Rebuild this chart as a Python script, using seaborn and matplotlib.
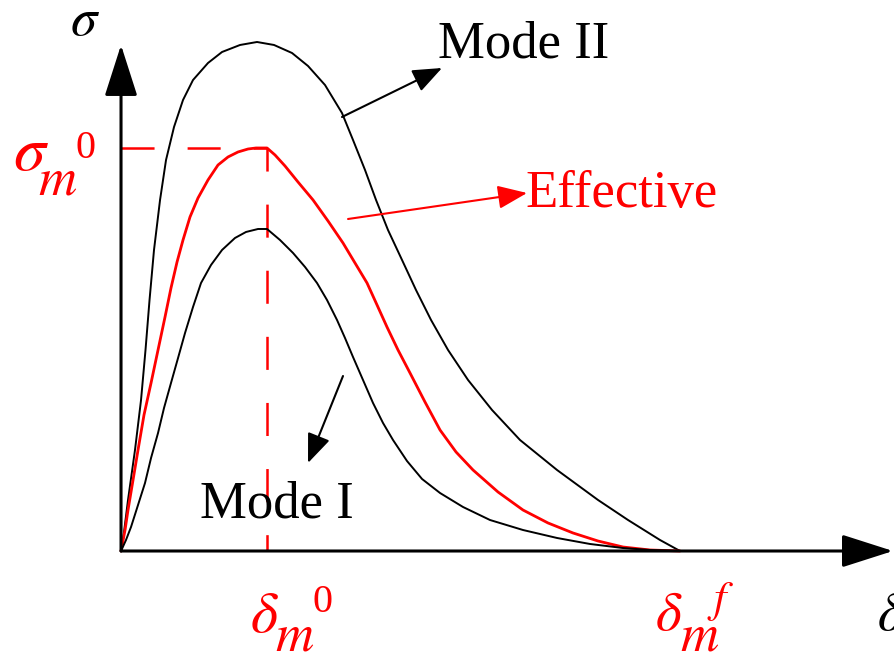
import matplotlib
matplotlib.use("Agg")
import matplotlib.pyplot as plt
import seaborn as sns
import pandas as pd

# Traction-separation curves, normalised: delta / delta_f and sigma / sigma_m^0
mode2_delta = [0.0, 0.0036, 0.0125, 0.0250, 0.0358, 0.0438, 0.0510, 0.0590, 0.0698,
               0.0805, 0.0948, 0.1109, 0.1288, 0.1556, 0.1807, 0.2129, 0.2433, 0.2737,
               0.3059, 0.3345, 0.3649, 0.3953, 0.4150, 0.4365, 0.4562, 0.4776, 0.5027,
               0.5277, 0.5546, 0.5850, 0.6208, 0.6637, 0.7138, 0.7800, 0.8533, 0.9070,
               0.9642, 1.0]
mode2_sigma = [0.0, 0.0273, 0.1266, 0.2506, 0.3747, 0.4988, 0.6228, 0.7469, 0.8710,
               0.9702, 1.0521, 1.1191, 1.1687, 1.2109, 1.2382, 1.2556, 1.2630, 1.2556,
               1.2357, 1.2035, 1.1563, 1.0868, 1.0199, 0.9454, 0.8710, 0.7965, 0.7221,
               0.6476, 0.5732, 0.4988, 0.4243, 0.3499, 0.2754, 0.2010, 0.1266, 0.0769,
               0.0273, 0.0]

eff_delta = [0.0, 0.0072, 0.0125, 0.0215, 0.0304, 0.0411, 0.0537, 0.0662, 0.0787,
             0.0894, 0.1002, 0.1109, 0.1234, 0.1377, 0.1556, 0.1735, 0.1914, 0.2093,
             0.2272, 0.2415, 0.2612, 0.2755, 0.2934, 0.3166, 0.3435, 0.3703, 0.3971,
             0.4186, 0.4401, 0.4580, 0.4758, 0.4955, 0.5170, 0.5438, 0.5707, 0.5993,
             0.6297, 0.6744, 0.7191, 0.7639, 0.8086, 0.8533, 0.8980, 0.9463, 1.0]
eff_sigma = [0.0, 0.0521, 0.1017, 0.1762, 0.2506, 0.3375, 0.4169, 0.4988, 0.5806,
             0.6526, 0.7171, 0.7717, 0.8288, 0.8759, 0.9206, 0.9578, 0.9777, 0.9901,
             0.9975, 1.0, 1.0, 0.9826, 0.9553, 0.9156, 0.8710, 0.8189, 0.7643,
             0.7146, 0.6650, 0.6104, 0.5558, 0.4988, 0.4417, 0.3697, 0.3002, 0.2457,
             0.2010, 0.1464, 0.1017, 0.0695, 0.0447, 0.0248, 0.0099, 0.0025, 0.0]

mode1_delta = [0.0, 0.0089, 0.0179, 0.0304, 0.0429, 0.0537, 0.0662, 0.0769, 0.0894,
               0.1020, 0.1145, 0.1288, 0.1431, 0.1610, 0.1807, 0.2039, 0.2236, 0.2451,
               0.2612, 0.2844, 0.3077, 0.3292, 0.3506, 0.3685, 0.3864, 0.4007, 0.4150,
               0.4329, 0.4508, 0.4687, 0.4866, 0.5116, 0.5385, 0.5707, 0.6118, 0.6601,
               0.7191, 0.7800, 0.8390, 0.8980, 0.9463, 1.0]
mode1_sigma = [0.0, 0.0273, 0.0596, 0.1141, 0.1687, 0.2308, 0.2928, 0.3548, 0.4169,
               0.4789, 0.5409, 0.6055, 0.6650, 0.7097, 0.7469, 0.7767, 0.7916, 0.7990,
               0.7990, 0.7717, 0.7395, 0.7047, 0.6650, 0.6228, 0.5732, 0.5285, 0.4814,
               0.4243, 0.3672, 0.3176, 0.2754, 0.2233, 0.1787, 0.1439, 0.1092, 0.0769,
               0.0521, 0.0323, 0.0174, 0.0074, 0.0025, 0.0]

# Characteristic values
delta_0 = 0.2612   # delta_m^0
delta_f = 1.0      # delta_m^f
sigma_0 = 1.0      # sigma_m^0

sns.set_style("white")
plt.rcParams["font.family"] = ["Liberation Serif", "DejaVu Serif"]
plt.rcParams["mathtext.fontset"] = "stix"

fig = plt.figure(figsize=(8.94, 6.53), dpi=100)
ax = fig.add_axes([0, 0, 1, 1])
ax.set_xlim(-0.2165, 1.3828)
ax.set_ylim(-0.2531, 1.3672)
ax.axis("off")

RED = "#ff0000"

curves = pd.concat([
    pd.DataFrame({"delta": mode2_delta, "sigma": mode2_sigma, "curve": "Mode II"}),
    pd.DataFrame({"delta": eff_delta, "sigma": eff_sigma, "curve": "Effective"}),
    pd.DataFrame({"delta": mode1_delta, "sigma": mode1_sigma, "curve": "Mode I"}),
])
styles = {"Mode II": ("black", 1.4), "Effective": (RED, 2.0), "Mode I": ("black", 1.4)}
for name, sub in curves.groupby("curve", sort=False):
    col, lw = styles[name]
    line_ax = sns.lineplot(data=sub, x="delta", y="sigma", sort=False, estimator=None,
                           color=col, lw=lw, ax=ax, legend=False, zorder=3)
for ln in ax.get_lines():
    ln.set_solid_joinstyle("round")

# Dashed guides to the peak of the effective curve
lw_d = 1.8
ax.plot([0, delta_0], [sigma_0, sigma_0], color=RED, lw=lw_d,
        linestyle=(0, (23.8 / lw_d, 23.8 / lw_d)), zorder=2)
ax.plot([delta_0, delta_0], [sigma_0, 0], color=RED, lw=lw_d,
        linestyle=(7.2 / lw_d, (23.8 / lw_d, 23.8 / lw_d)), zorder=2)

# Axes with arrow heads
axis_arrow = dict(arrowstyle="-|>,head_length=1.0,head_width=0.32", color="black",
                  lw=2.2, mutation_scale=32, shrinkA=0, shrinkB=0)
ax.annotate("", xy=(0, 1.2556), xytext=(0, 0), arrowprops=axis_arrow, zorder=4)
ax.annotate("", xy=(1.381, 0), xytext=(0, 0), arrowprops=axis_arrow, zorder=4)

# Pointer arrows
def pointer(color):
    return dict(arrowstyle="-|>,head_length=1.0,head_width=0.4", color=color,
                lw=1.5, mutation_scale=18, shrinkA=0, shrinkB=0)

ax.annotate("", xy=(0.5742, 1.1985), xytext=(0.3953, 1.0769), arrowprops=pointer("black"))
ax.annotate("", xy=(0.7263, 0.8883), xytext=(0.4061, 0.8238), arrowprops=pointer(RED))
ax.annotate("", xy=(0.3345, 0.2184), xytext=(0.3971, 0.4342), arrowprops=pointer("black"))

# Curve labels
FS = 38
ax.text(0.5671, 1.2233, "Mode II", fontsize=FS, color="black", va="baseline", ha="left")
ax.text(0.7227, 0.8536, "Effective", fontsize=FS, color=RED, va="baseline", ha="left")
ax.text(0.1413, 0.0819, "Mode I", fontsize=FS, color="black", va="baseline", ha="left")

# Axis symbols
ax.text(-0.0912, 1.2804, r"$\sigma$", fontsize=FS, color="black", va="baseline", ha="left")
ax.text(1.3524, -0.1960, r"$\delta$", fontsize=40, color="black", va="baseline", ha="left")

# sigma_m^0
ax.text(-0.1932, 0.9454, r"$\sigma$", fontsize=46, color=RED, va="baseline", ha="left")
ax.text(-0.1485, 0.8834, r"$m$", fontsize=FS, color=RED, va="baseline", ha="left")
ax.text(-0.0823, 0.9752, "0", fontsize=29, color=RED, va="baseline", ha="left")

# delta_m^0
ax.text(0.2308, -0.2010, r"$\delta$", fontsize=42, color=RED, va="baseline", ha="left")
ax.text(0.2755, -0.2457, r"$m$", fontsize=FS, color=RED, va="baseline", ha="left")
ax.text(0.3417, -0.1514, "0", fontsize=29, color=RED, va="baseline", ha="left")

# delta_m^f
ax.text(0.9553, -0.1960, r"$\delta$", fontsize=40, color=RED, va="baseline", ha="left")
ax.text(1.0, -0.2457, r"$m$", fontsize=FS, color=RED, va="baseline", ha="left")
ax.text(1.0483, -0.1514, r"$f$", fontsize=32, color=RED, va="baseline", ha="left")

fig.savefig("out.png", dpi=100)
